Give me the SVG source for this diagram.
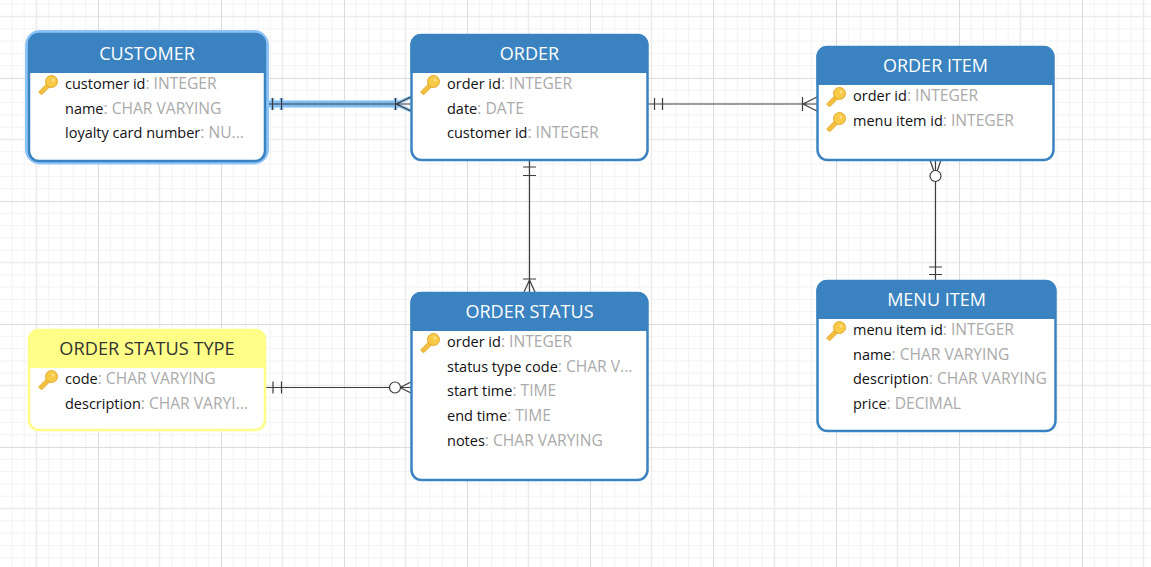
<svg xmlns="http://www.w3.org/2000/svg" width="1151" height="567" viewBox="0 0 1151 567">
<style>
text{font-family:"Open Sans","Noto Sans","Liberation Sans",sans-serif}
.h{font-size:18px;fill:#fff;text-anchor:middle}
.hd{font-size:18.200px;fill:#333;text-anchor:middle}
.r{font-size:14.500px;fill:#111}
.t{fill:#aaa;font-size:15.600px}
.body{fill:#fff;stroke:#3a83c0;stroke-width:2.500}
.head{fill:#3a83c0}
.c{fill:none;stroke:#3d3d3d;stroke-width:1.200}
.halo{fill:none;stroke:#7fbcf5;stroke-width:7}
.halo2{fill:none;stroke:#84bff5;stroke-width:3.500}
</style>
<defs>
<pattern id="grid" patternUnits="userSpaceOnUse" x="-25" y="-45" width="123" height="123">
<path d="M12.300 0V123M24.600 0V123M36.900 0V123M49.200 0V123M73.800 0V123M86.100 0V123M98.400 0V123M110.700 0V123M0 12.300H123M0 24.600H123M0 36.900H123M0 49.200H123M0 73.800H123M0 86.100H123M0 98.400H123M0 110.700H123" stroke="#f3f3f3" stroke-width="1" fill="none"/>
<path d="M61.500 0V123M0 61.500H123" stroke="#ececec" stroke-width="1.600" fill="none"/>
<path d="M0.500 0V123M0 0.500H123" stroke="#dcdcdc" stroke-width="1" fill="none"/>
</pattern>
<symbol id="key" viewBox="0 0 20 20" width="20" height="20">
<path d="M1 16.500L9.500 8L12.500 11L4 19.500L2.500 19L1 17.500Z" fill="#f4bf3e" stroke="#dba526" stroke-width=".8"/>
<circle cx="13.500" cy="6.500" r="6" fill="#f8ca48" stroke="#dba526" stroke-width=".9"/>
<circle cx="15" cy="5" r="1.500" fill="#fbe08a"/>
</symbol>
</defs>
<rect width="1151" height="567" fill="#fff"/>
<rect width="1151" height="567" fill="url(#grid)"/>

<g id="connectors">
<path class="halo" d="M267 104H400"/>
<path class="halo2" d="M272.500 98V110M281.500 98V110M395.500 98V110M396 104L411 97M396 104L411 111"/>
<path class="c" d="M267 104H411M272.500 98V110M281.500 98V110M395.500 98V110M396 104L411 97M396 104L411 111"/>
<path class="c" d="M648 104H817M654.500 98V110M662.500 98V110M802.500 97V111M803 104L817 97M803 104L817 111"/>
<path class="c" d="M529.500 160V292M523 167H536M523 175.500H536M523 279H536M529.500 280L524 292M529.500 280L535 292"/>
<path class="c" d="M935.500 160V280M929 267H942M929 274.500H942M935.500 176L930 160M935.500 176L941 160"/>
<circle class="c" cx="935.500" cy="176" r="5.500" style="fill:#fff"/>
<path class="c" d="M265 387.500H411M273 381.500V393.500M281.500 381.500V393.500M400 387.500L411 382M400 387.500L411 393"/>
<circle class="c" cx="395" cy="387.500" r="5.500" style="fill:#fff"/>
</g>

<g id="customer">
<rect x="27" y="32" width="240" height="130.500" rx="13" fill="none" stroke="#8cc4f8" stroke-width="4"/>
<rect class="body" x="29" y="34" width="236" height="127" rx="10"/>
<path class="head" d="M28 73V44A10 10 0 0 1 38 34H256A10 10 0 0 1 266 44V73Z"/>
<text class="h" x="147" y="60">CUSTOMER</text>
<use href="#key" x="38" y="75"/>
<text class="r" x="65" y="89">customer id<tspan class="t">: INTEGER</tspan></text>
<text class="r" x="65" y="114">name<tspan class="t">: CHAR VARYING</tspan></text>
<text class="r" x="65" y="138">loyalty card number<tspan class="t">: NU...</tspan></text>
</g>

<g id="order">
<rect class="body" x="411.500" y="35" width="236" height="125" rx="10"/>
<path class="head" d="M410.500 73V44A10 10 0 0 1 420.500 34H638A10 10 0 0 1 648 44V73Z"/>
<text class="h" x="529.500" y="60">ORDER</text>
<use href="#key" x="420" y="75"/>
<text class="r" x="447" y="89">order id<tspan class="t">: INTEGER</tspan></text>
<text class="r" x="447" y="114">date<tspan class="t">: DATE</tspan></text>
<text class="r" x="447" y="138">customer id<tspan class="t">: INTEGER</tspan></text>
</g>

<g id="order-item">
<rect class="body" x="817.500" y="47" width="236" height="113" rx="10"/>
<path class="head" d="M816.500 85V56A10 10 0 0 1 826.500 46H1044A10 10 0 0 1 1054 56V85Z"/>
<text class="h" x="935.500" y="72">ORDER ITEM</text>
<use href="#key" x="826" y="87"/>
<use href="#key" x="826" y="112"/>
<text class="r" x="853" y="101">order id<tspan class="t">: INTEGER</tspan></text>
<text class="r" x="853" y="126">menu item id<tspan class="t">: INTEGER</tspan></text>
</g>

<g id="order-status">
<rect class="body" x="411.500" y="293" width="236" height="187" rx="10"/>
<path class="head" d="M410.500 331V302A10 10 0 0 1 420.500 292H638A10 10 0 0 1 648 302V331Z"/>
<text class="h" x="529.500" y="318">ORDER STATUS</text>
<use href="#key" x="420" y="333"/>
<text class="r" x="447" y="347">order id<tspan class="t">: INTEGER</tspan></text>
<text class="r" x="447" y="372">status type code<tspan class="t">: CHAR V...</tspan></text>
<text class="r" x="447" y="396">start time<tspan class="t">: TIME</tspan></text>
<text class="r" x="447" y="421">end time<tspan class="t">: TIME</tspan></text>
<text class="r" x="447" y="446">notes<tspan class="t">: CHAR VARYING</tspan></text>
</g>

<g id="menu-item">
<rect class="body" x="817.500" y="281" width="238" height="150" rx="10"/>
<path class="head" d="M816.500 319V290A10 10 0 0 1 826.500 280H1046A10 10 0 0 1 1056 290V319Z"/>
<text class="h" x="936.500" y="306">MENU ITEM</text>
<use href="#key" x="826" y="321"/>
<text class="r" x="853" y="335">menu item id<tspan class="t">: INTEGER</tspan></text>
<text class="r" x="853" y="360">name<tspan class="t">: CHAR VARYING</tspan></text>
<text class="r" x="853" y="384">description<tspan class="t">: CHAR VARYING</tspan></text>
<text class="r" x="853" y="409">price<tspan class="t">: DECIMAL</tspan></text>
</g>

<g id="order-status-type">
<rect x="29" y="330" width="236" height="100" rx="10" fill="#fff" stroke="#ffff88" stroke-width="2.500"/>
<path d="M28 368V339A10 10 0 0 1 38 329H256A10 10 0 0 1 266 339V368Z" fill="#ffff88"/>
<text class="hd" x="147" y="355">ORDER STATUS TYPE</text>
<use href="#key" x="38" y="370"/>
<text class="r" x="65" y="384">code<tspan class="t">: CHAR VARYING</tspan></text>
<text class="r" x="65" y="409">description<tspan class="t">: CHAR VARYI...</tspan></text>
</g>
</svg>
